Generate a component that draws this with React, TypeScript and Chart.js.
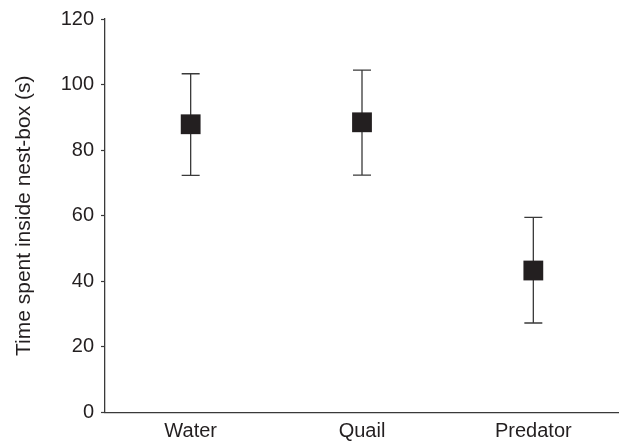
import React, { useEffect, useRef } from "react";
import { Chart, registerables } from "chart.js";

Chart.register(...registerables);

const categories = ["Water", "Quail", "Predator"];
const means = [87.9, 88.5, 43.3];
const upperValues = [103.3, 104.4, 59.5];
const lowerValues = [72.3, 72.4, 27.3];
const yTicks = [0, 20, 40, 60, 80, 100, 120];

const FONT = "'Liberation Sans', Arial, Helvetica, sans-serif";
const INK = "#231f20";
const LINE = "#3a3a3a";

const errorBarPlugin = {
  id: "errorBars",
  beforeDatasetsDraw(chart: any) {
    const { ctx, scales } = chart;
    const xs = scales.x;
    const ys = scales.y;
    ctx.save();
    ctx.strokeStyle = LINE;
    ctx.lineWidth = 1.3;
    const cap = 9;
    for (let i = 0; i < categories.length; i++) {
      const x = xs.getPixelForValue(i);
      const yt = ys.getPixelForValue(upperValues[i]);
      const yb = ys.getPixelForValue(lowerValues[i]);
      ctx.beginPath();
      ctx.moveTo(x, yt);
      ctx.lineTo(x, yb);
      ctx.moveTo(x - cap, yt);
      ctx.lineTo(x + cap, yt);
      ctx.moveTo(x - cap, yb);
      ctx.lineTo(x + cap, yb);
      ctx.stroke();
    }
    ctx.restore();
  },
};

export default function App() {
  const ref = useRef<HTMLCanvasElement | null>(null);
  useEffect(() => {
    if (!ref.current) return;
    const chart = new Chart(ref.current, {
      type: "line",
      data: {
        labels: categories,
        datasets: [
          {
            data: means,
            showLine: false,
            pointStyle: "rect",
            pointRadius: 14,
            pointHoverRadius: 14,
            pointBackgroundColor: INK,
            pointBorderColor: INK,
            pointBorderWidth: 0,
            clip: false as any,
          },
        ],
      },
      plugins: [errorBarPlugin],
      options: {
        animation: false,
        responsive: true,
        maintainAspectRatio: false,
        layout: {
          autoPadding: false,
          padding: { top: 16.5, right: 0, left: 0, bottom: 0 },
        },
        plugins: { legend: { display: false }, tooltip: { enabled: false } },
        scales: {
          x: {
            type: "category",
            offset: true,
            grid: { display: false },
            border: { display: true, color: LINE, width: 1.3 },
            ticks: {
              color: INK,
              font: { family: FONT, size: 20 },
              padding: -1,
              maxRotation: 0,
            },
            afterFit(scale: any) {
              scale.height = 28.5;
            },
          },
          y: {
            min: 0,
            max: 120,
            afterBuildTicks(scale: any) {
              scale.ticks = yTicks.map((v) => ({ value: v }));
            },
            grid: {
              display: true,
              drawOnChartArea: false,
              drawTicks: true,
              tickLength: 4,
              tickColor: LINE,
              tickWidth: 1.2,
            },
            border: { display: true, color: LINE, width: 1.3 },
            ticks: {
              color: INK,
              font: { family: FONT, size: 20 },
              padding: 7,
            },
            title: {
              display: true,
              text: "Time spent inside nest-box (s)",
              color: INK,
              font: { family: FONT, size: 21, lineHeight: 1.2 },
              padding: { top: 12, bottom: 0 },
            },
            afterFit(scale: any) {
              scale.width = 105;
            },
          },
        },
      },
    });
    return () => chart.destroy();
  }, []);
  return (
    <div
      style={{
        position: "absolute",
        left: 0,
        top: 0,
        width: 619,
        height: 441,
        overflow: "hidden",
        background: "#fff",
      }}
    >
      <canvas ref={ref} style={{ display: "block" }} />
    </div>
  );
}
